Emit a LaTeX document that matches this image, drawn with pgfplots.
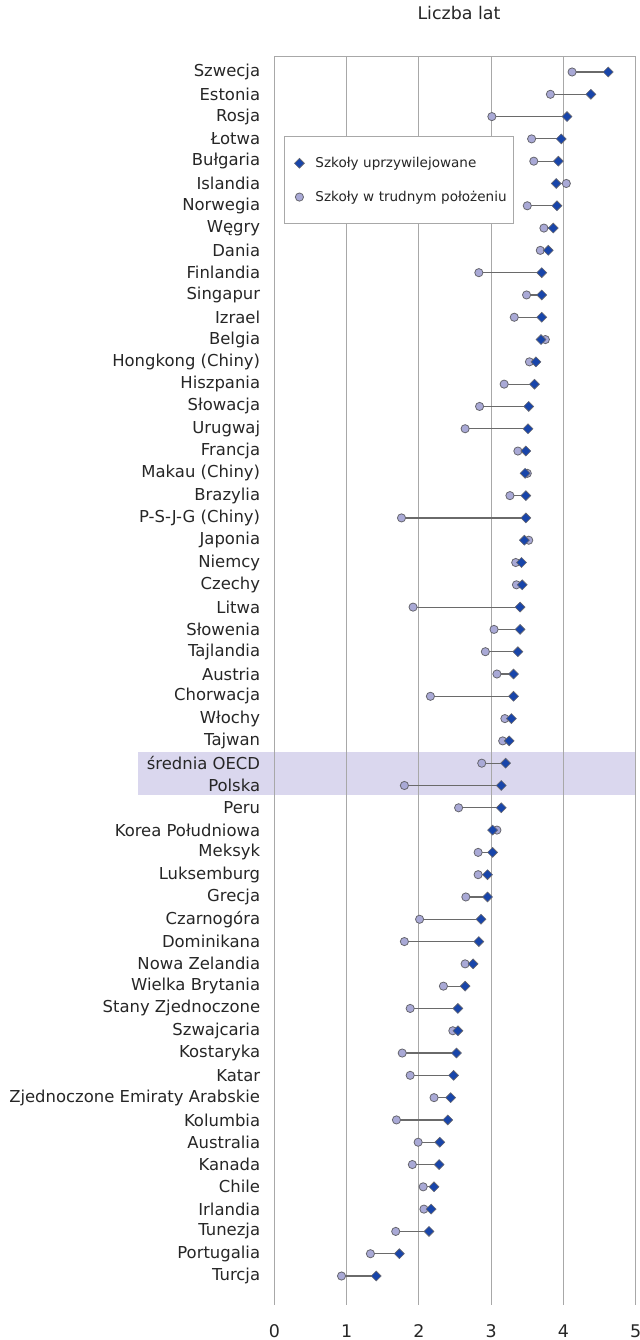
\documentclass[border=0pt]{standalone}
\usepackage{pgfplots}
\usepackage{pgfplotstable}
\pgfplotsset{compat=1.18}
\usepackage{fontspec}
\setmainfont{DejaVu Sans}

\definecolor{advblue}{HTML}{1845AA}
\definecolor{dislav}{HTML}{A9A9D6}
\definecolor{markedge}{HTML}{66666E}
\definecolor{linkgray}{HTML}{6A6A6A}
\definecolor{gridgray}{HTML}{A8A8A8}
\definecolor{bandfill}{HTML}{DAD7EE}
\definecolor{txt}{HTML}{262626}

% row, country, disadvantaged schools, advantaged schools (years)
\pgfplotstableread[col sep=comma]{
row,name,dis,adv
1,Szwecja,4.12,4.62
2,Estonia,3.82,4.38
3,Rosja,3.01,4.05
4,Łotwa,3.56,3.97
5,Bułgaria,3.59,3.93
6,Islandia,4.04,3.90
7,Norwegia,3.50,3.91
8,Węgry,3.73,3.86
9,Dania,3.68,3.79
10,Finlandia,2.83,3.70
11,Singapur,3.49,3.70
12,Izrael,3.32,3.70
13,Belgia,3.75,3.69
14,Hongkong (Chiny),3.53,3.62
15,Hiszpania,3.18,3.60
16,Słowacja,2.84,3.52
17,Urugwaj,2.64,3.51
18,Francja,3.37,3.48
19,Makau (Chiny),3.50,3.47
20,Brazylia,3.26,3.48
21,P-S-J-G (Chiny),1.76,3.48
22,Japonia,3.52,3.46
23,Niemcy,3.34,3.42
24,Czechy,3.35,3.43
25,Litwa,1.92,3.40
26,Słowenia,3.04,3.40
27,Tajlandia,2.92,3.37
28,Austria,3.08,3.31
29,Chorwacja,2.16,3.31
30,Włochy,3.19,3.28
31,Tajwan,3.16,3.25
32,średnia OECD,2.87,3.20
33,Polska,1.80,3.14
34,Peru,2.55,3.14
35,Korea Południowa,3.08,3.02
36,Meksyk,2.82,3.02
37,Luksemburg,2.82,2.95
38,Grecja,2.65,2.95
39,Czarnogóra,2.01,2.86
40,Dominikana,1.80,2.83
41,Nowa Zelandia,2.64,2.75
42,Wielka Brytania,2.34,2.64
43,Stany Zjednoczone,1.88,2.54
44,Szwajcaria,2.47,2.54
45,Kostaryka,1.77,2.52
46,Katar,1.88,2.48
47,Zjednoczone Emiraty Arabskie,2.21,2.44
48,Kolumbia,1.69,2.40
49,Australia,1.99,2.29
50,Kanada,1.91,2.28
51,Chile,2.06,2.21
52,Irlandia,2.07,2.17
53,Tunezja,1.68,2.14
54,Portugalia,1.33,1.73
55,Turcja,0.93,1.41
}\data

\begin{document}
\begin{tikzpicture}
\begin{axis}[
  set layers,
  at={(0,0)}, anchor=south west,
  scale only axis,
  width=361.4bp, height=1249bp,
  xmin=0, xmax=5,
  ymin=0.283, ymax=56.30,
  y dir=reverse,
  clip=false,
  axis line style={draw=none},
  xtick={0,1,2,3,4,5},
  ytick={1,...,55},
  yticklabels from table={\data}{name},
  major tick length=0pt,
  xmajorgrids,
  major grid style={gridgray, line width=0.9bp},
  /pgf/number format/assume math mode=true,
  tick label style={text=txt},
  yticklabel style={font=\fontsize{16.5}{19}\selectfont, inner sep=0pt, xshift=-14bp, anchor=east},
  xticklabel style={font=\fontsize{17.5}{20}\selectfont, inner sep=0pt, anchor=center, yshift=-26bp},
  title={Liczba lat},
  title style={font=\fontsize{17.5}{20}\selectfont, text=txt, anchor=center, at={(0.5,1)}, yshift=37bp, xshift=4bp},
  reverse legend,
  legend image code/.code={
    \path[draw=none, fill=none] (0bp,-4bp) rectangle (26bp,4bp);
    \draw[mark repeat=1,#1] plot coordinates {(12bp,0bp)};
  },
  legend style={
    at={(0.0268,0.936)}, anchor=north west,
    draw=gridgray, line width=0.9bp,
    font=\fontsize{13.6}{16}\selectfont, text=txt,
    inner xsep=3bp, inner ysep=19bp,
    row sep=18bp,
    nodes={text width=193bp, align=left, inner xsep=2bp},
  },
  legend cell align=left,
]
% highlighted band behind the OECD average and Poland
\addplot[on layer=axis background, fill=bandfill, draw=none, forget plot]
  coordinates {(-1.886,31.52) (5,31.52) (5,33.42) (-1.886,33.42)} -- cycle;
% connectors between the two school groups
\addplot[only marks, mark=none, forget plot,
  error bars/.cd, x dir=both, x explicit, error mark=none,
  error bar style={draw=linkgray, solid, line width=1.2bp}]
  table[x=dis, y=row,
        x error plus expr={max(\thisrow{adv}-\thisrow{dis},0)},
        x error minus expr={max(\thisrow{dis}-\thisrow{adv},0)}] {\data};
% disadvantaged schools
\addplot[only marks, mark=*, mark size=4.1bp,
  mark options={fill=dislav, draw=markedge, line width=0.8bp}]
  table[x=dis, y=row] {\data};
\addlegendentry{Szkoły w trudnym położeniu}
% advantaged schools
\addplot[only marks, mark=square*, mark size=3.5bp,
  mark options={rotate=45, fill=advblue, draw=markedge, line width=0.6bp}]
  table[x=adv, y=row] {\data};
\addlegendentry{Szkoły uprzywilejowane}
% top edge of the plot area
\draw[gridgray, line width=0.9bp] (axis cs:0,0.283) -- (axis cs:5,0.283);
\end{axis}
\pgfresetboundingbox
\useasboundingbox (-274.3bp,-35bp) rectangle (365.7bp,1305bp);
\end{tikzpicture}
\end{document}
